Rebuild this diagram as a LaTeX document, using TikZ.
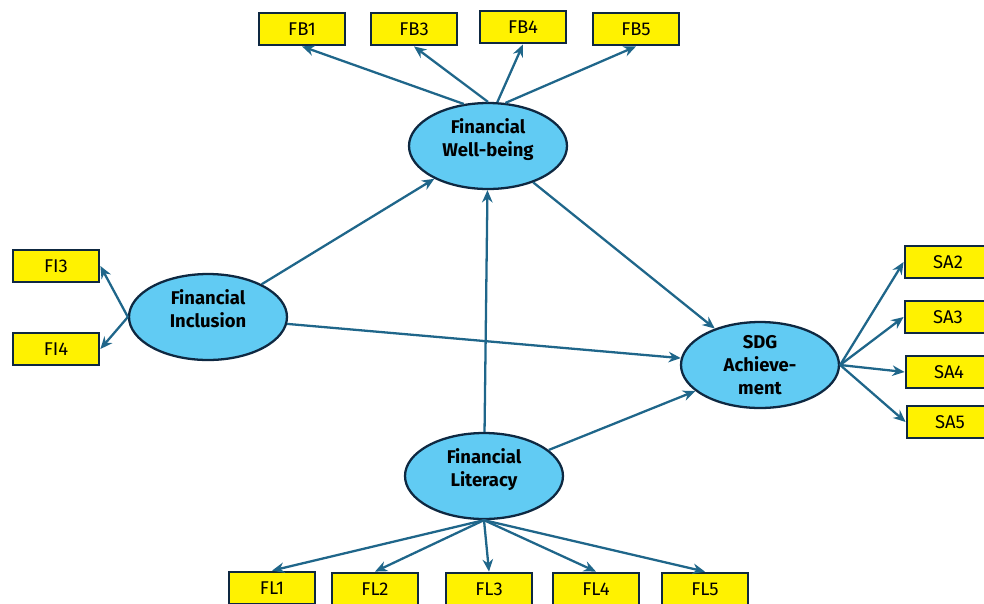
\documentclass[tikz,border=0pt]{standalone}
\usepackage{fontspec}
\setmainfont{Fira Sans}
\usetikzlibrary{arrows.meta,shapes.geometric}
\definecolor{latentfill}{HTML}{61CBF3}
\definecolor{edgenavy}{HTML}{0E2841}
\definecolor{pathblue}{HTML}{1F668A}

\begin{document}
\begin{tikzpicture}[x=0.02cm,y=-0.02cm,
		latent/.style={ellipse,draw=edgenavy,line width=1.3pt,fill=latentfill,minimum width=3.16cm,minimum height=1.72cm,inner sep=0pt,align=center,font=\bfseries\fontsize{10.5}{13}\selectfont},
		item/.style={rectangle,draw=edgenavy,line width=1.6pt,fill=yellow,minimum width=1.72cm,minimum height=0.64cm,inner sep=0pt,font=\fontsize{10.5}{12}\selectfont},
		load/.style={draw=pathblue,line width=1.3pt,-{Stealth[length=7pt,width=6pt]}}]
				\useasboundingbox (0,0) rectangle (984,603);
				
				\node[latent] (fwb) at (488,146) {Financial\\Well-being\\[-3pt]};
				\node[latent] (fi) at (208,317) {Financial\\Inclusion\\[-3pt]};
				\node[latent] (sdg) at (760,365) {SDG\\Achieve-\\ment};
				\node[latent] (fl) at (484,476) {Financial\\Literacy\\[-3pt]};
				
				\node[item] (fb1) at (302,29) {FB1};
				\node[item] (fb3) at (414,29) {FB3};
				\node[item] (fb4) at (523,27) {FB4};
				\node[item] (fb5) at (636,29) {FB5};
				
				\node[item] (fi3) at (56,266) {FI3};
				\node[item] (fi4) at (56,349) {FI4};
				
				\node[item] (sa2) at (948,262) {SA2};
				\node[item] (sa3) at (948,317) {SA3};
				\node[item] (sa4) at (949,372) {SA4};
				\node[item] (sa5) at (950,422) {SA5};
				
				\node[item] (fl1) at (272,588) {FL1};
				\node[item] (fl2) at (375,589) {FL2};
				\node[item] (fl3) at (489,589) {FL3};
				\node[item] (fl4) at (596,589) {FL4};
				\node[item] (fl5) at (705,589) {FL5};
				
				\draw[load] (fwb.120) -- (fb1.south);
				\draw[load] (fwb.north) -- (fb3.south);
				\draw[load] (fwb.78) -- (fb4.south);
				\draw[load] (fwb.68) -- (fb5.south);
				
				\draw[load] (fi.west) -- (fi3.east);
				\draw[load] (fi.west) -- (fi4.east);
				
				\draw[load] (sdg.east) -- (sa2.west);
				\draw[load] (sdg.east) -- (sa3.west);
				\draw[load] (sdg.east) -- (sa4.west);
				\draw[load] (sdg.east) -- (sa5.west);
				
				\draw[load] (fl.south) -- (fl1.north);
				\draw[load] (fl.south) -- (fl2.north);
				\draw[load] (fl.south) -- (fl3.north);
				\draw[load] (fl.south) -- (fl4.north);
				\draw[load] (fl.south) -- (fl5.north);
				
				\draw[load] (fi) -- (fwb);
				\draw[load] (fl) -- (fwb);
				\draw[load] (fwb) -- (sdg);
				\draw[load] (fi) -- (sdg);
				\draw[load] (fl) -- (sdg);
			\end{tikzpicture}
\end{document}
